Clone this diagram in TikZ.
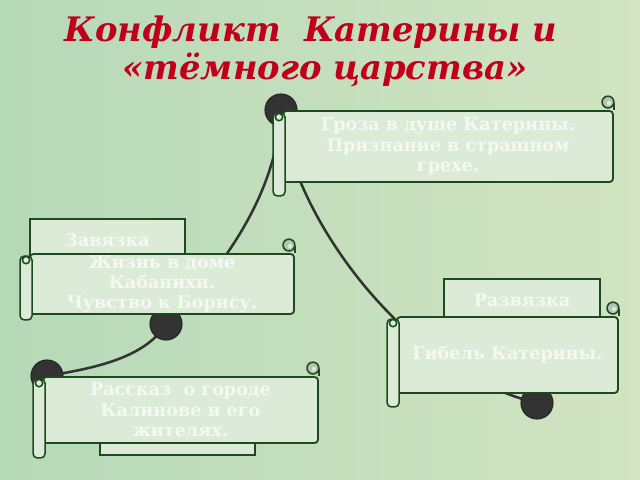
\documentclass[tikz,border=0pt]{standalone}
\usepackage{fontspec}
\setmainfont{DejaVu Serif}
\usetikzlibrary{calc}
\definecolor{titlered}{HTML}{C0001A}
\definecolor{scrollfill}{HTML}{DCEBD8}
\definecolor{scrollline}{HTML}{1C4A1C}
\definecolor{curlfill}{HTML}{B7C2B7}
\definecolor{vertexfill}{HTML}{333333}
\definecolor{bgleft}{HTML}{B6D9B8}
\definecolor{bgright}{HTML}{D2E4C2}
\definecolor{boxtext}{HTML}{F5F9F3}
\pgfdeclarelayer{back}
\pgfdeclarelayer{curves}
\pgfsetlayers{back,curves,main}

\begin{document}
\begin{tikzpicture}[x=0.025cm,y=-0.025cm,
    vertex/.style={circle,draw=black!85,fill=vertexfill,line width=0.8pt,minimum size=0.8cm,inner sep=0pt},
    branch/.style={draw=black!80,line width=1.8pt},
    plainbox/.style={draw=scrollline,fill=scrollfill,line width=1.3pt,inner sep=0pt,text=boxtext,
        font=\bfseries\fontsize{12.5}{14.5}\selectfont},
    scrollbox/.style={plainbox,rounded corners=2.5pt,align=center},
    curl/.style={draw=scrollline,line width=1.1pt}]
    \begin{pgfonlayer}{back}
    \shade[left color=bgleft,right color=bgright] (0,0) rectangle (640,480);
    \end{pgfonlayer}
    \useasboundingbox (0,0) rectangle (640,480);

    % title
    \node[text=titlered,font=\bfseries\itshape\fontsize{24}{28}\selectfont,anchor=base] (title1) at (311,41) {Конфликт\ \ Катерины и};
    \node[text=titlered,font=\bfseries\itshape\fontsize{24}{28}\selectfont,anchor=base] (title2) at (325,79) {«тёмного царства»};

    % vertices of the plot line
    \node[vertex] (top) at (281,110) {};
    \node[vertex] (mid) at (166,324) {};
    \node[vertex] (low) at (47,376) {};
    \node[vertex] (right) at (537,403) {};

    \begin{pgfonlayer}{curves}
    \draw[branch] (top.center) .. controls (276,210) and (200,292) .. (mid.center);
    \draw[branch] (mid.center) .. controls (145,358) and (95,368) .. (low.center);
    \draw[branch] (top.center) .. controls (290,210) and (400,370) .. (right.center);
    \end{pgfonlayer}

    % label boxes
    \node[plainbox,minimum width=3.875cm,minimum height=1.075cm] (zavlabel) at (107.5,240.5) {Завязка};
    \node[plainbox,minimum width=3.9cm,minimum height=1.075cm] (razvlabel) at (522,300.5) {Развязка};
    \node[plainbox,minimum width=3.875cm,minimum height=1.075cm] (expolabel) at (177.5,433.5) {};

    % scrolls
    \node[scrollbox,minimum width=8.25cm,minimum height=1.775cm] (kulm) at (448,146.5)
        {Гроза в душе Катерины.\\Признание в страшном\\грехе.};
    \node[scrollbox,minimum width=6.6cm,minimum height=1.5cm] (zav) at (162,284)
        {Жизнь в доме\\Кабанихи.\\Чувство к Борису.};
    \node[scrollbox,minimum width=5.525cm,minimum height=1.9cm] (razv) at (507.5,355)
        {Гибель Катерины.};
    \node[scrollbox,minimum width=6.875cm,minimum height=1.65cm] (expo) at (180.5,410)
        {Рассказ\ \ о городе\\Калинове и его\\жителях.};

    \foreach \s/\e in {kulm/13,zav/5,razv/13,expo/14}{
        \draw[curl,fill=scrollfill,rounded corners=3pt] ($(\s.north west)+(-9,3)$) rectangle ($(\s.south west)+(3,\e)$);
        \draw[curl,fill=scrollfill] ($(\s.north west)+(-3,7)$) circle (2.6pt);
        \draw[curl] (\s.north east) -- ($(\s.north east)+(0,-7)$);
        \draw[curl,fill=curlfill] ($(\s.north east)+(-6,-8)$) circle (4.2pt);
        \fill[scrollfill] ($(\s.north east)+(-5,-7)$) circle (1.6pt);
    }
\end{tikzpicture}
\end{document}
